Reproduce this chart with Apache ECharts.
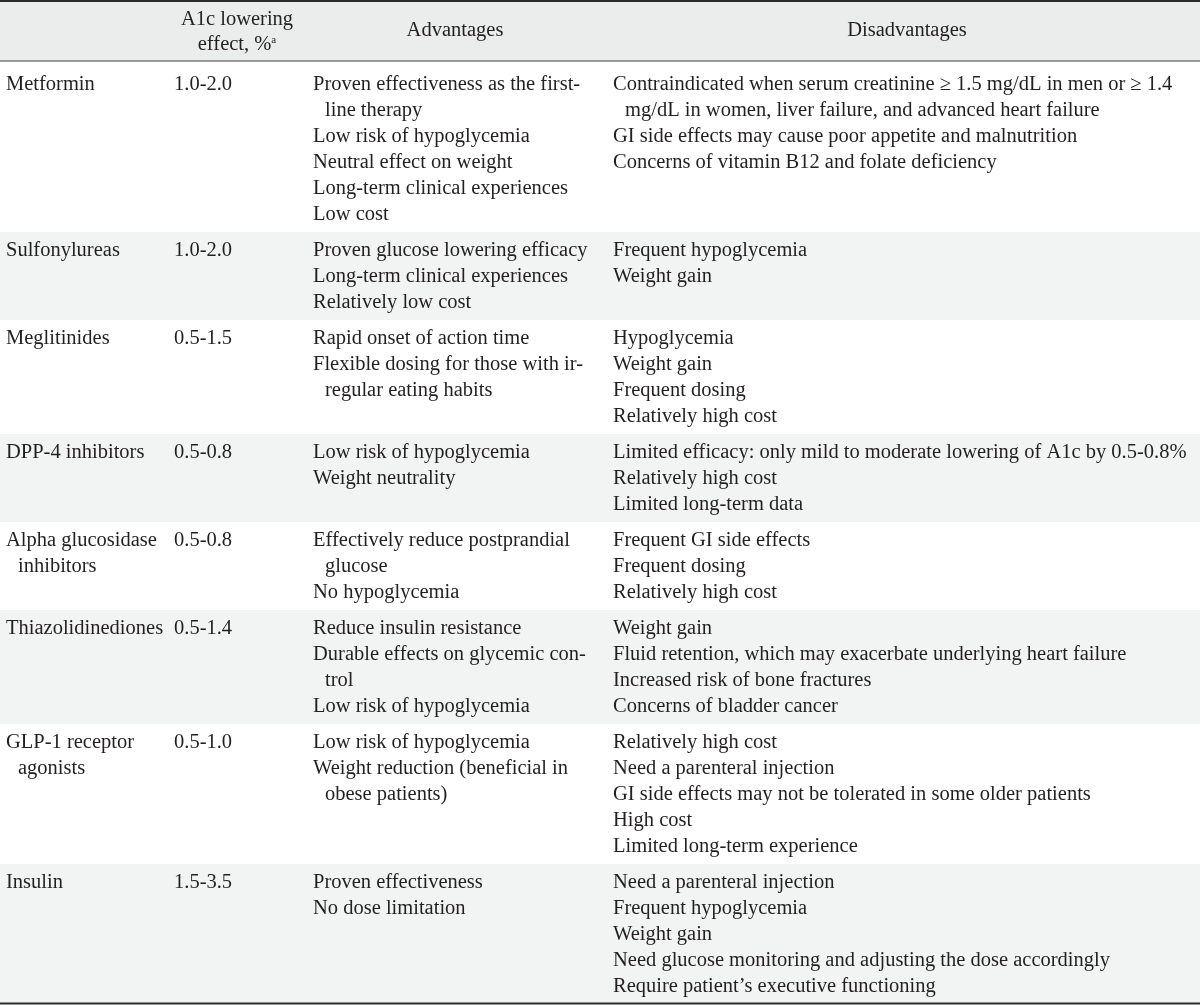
<!DOCTYPE html>
<html><head><meta charset="utf-8">
<script src="https://cdn.jsdelivr.net/npm/echarts@6/dist/echarts.min.js"></script>
<style>html,body{margin:0;padding:0;background:#fff}#c{width:1200px;height:1007px}</style>
</head><body><div id="c"></div>
<script>
// ---------- table content ----------
const headerLabels = [[""], ["A1c lowering", "effect, %{sup|a}"], ["Advantages"], ["Disadvantages"]];
const drugs = [
  ["Metformin"], ["Sulfonylureas"], ["Meglitinides"], ["DPP-4 inhibitors"],
  ["Alpha glucosidase", "inhibitors"], ["Thiazolidinediones"], ["GLP-1 receptor", "agonists"], ["Insulin"]
];
const a1cRanges = ["1.0-2.0", "1.0-2.0", "0.5-1.5", "0.5-0.8", "0.5-0.8", "0.5-1.4", "0.5-1.0", "1.5-3.5"];
const advantages = [
  [["Proven effectiveness as the first-", "line therapy"], ["Low risk of hypoglycemia"], ["Neutral effect on weight"], ["Long-term clinical experiences"], ["Low cost"]],
  [["Proven glucose lowering efficacy"], ["Long-term clinical experiences"], ["Relatively low cost"]],
  [["Rapid onset of action time"], ["Flexible dosing for those with ir-", "regular eating habits"]],
  [["Low risk of hypoglycemia"], ["Weight neutrality"]],
  [["Effectively reduce postprandial", "glucose"], ["No hypoglycemia"]],
  [["Reduce insulin resistance"], ["Durable effects on glycemic con-", "trol"], ["Low risk of hypoglycemia"]],
  [["Low risk of hypoglycemia"], ["Weight reduction (beneficial in", "obese patients)"]],
  [["Proven effectiveness"], ["No dose limitation"]]
];
const disadvantages = [
  [["Contraindicated when serum creatinine \u2265 1.5 mg/dL in men or \u2265 1.4", "mg/dL in women, liver failure, and advanced heart failure"], ["GI side effects may cause poor appetite and malnutrition"], ["Concerns of vitamin B12 and folate deficiency"]],
  [["Frequent hypoglycemia"], ["Weight gain"]],
  [["Hypoglycemia"], ["Weight gain"], ["Frequent dosing"], ["Relatively high cost"]],
  [["Limited efficacy: only mild to moderate lowering of A1c by 0.5-0.8%"], ["Relatively high cost"], ["Limited long-term data"]],
  [["Frequent GI side effects"], ["Frequent dosing"], ["Relatively high cost"]],
  [["Weight gain"], ["Fluid retention, which may exacerbate underlying heart failure"], ["Increased risk of bone fractures"], ["Concerns of bladder cancer"]],
  [["Relatively high cost"], ["Need a parenteral injection"], ["GI side effects may not be tolerated in some older patients"], ["High cost"], ["Limited long-term experience"]],
  [["Need a parenteral injection"], ["Frequent hypoglycemia"], ["Weight gain"], ["Need glucose monitoring and adjusting the dose accordingly"], ["Require patient\u2019s executive functioning"]]
];

// ---------- layout ----------
const W = 1200, H = 1007;
const FONT_FAMILY = '"Liberation Serif", "Times New Roman", serif';
const FS = 20.5, LINE = 26, HEAD_H = 61, TOP_PAD = 19, INDENT = 12;
const colX = [6, 174, 313, 613];
const headCenters = [0, 237, 455, 907];
const TEXT = '#231f20';

function cellLines(items) {
  const out = [];
  items.forEach(it => it.forEach((ln, k) => out.push({ text: ln, indent: k > 0 })));
  return out;
}
const rows = drugs.map((d, i) => {
  const cells = [cellLines([d]), cellLines([[a1cRanges[i]]]), cellLines(advantages[i]), cellLines(disadvantages[i])];
  return { cells, n: Math.max(...cells.map(c => c.length)) };
});
let yCur = HEAD_H;
const rowData = rows.map((r, i) => {
  const extra = i === 0 ? 5 : 0;
  const h = LINE * r.n + 10 + extra;
  const d = [i, yCur, yCur + h, extra];
  yCur += h;
  return d;
});
const tableBottom = yCur;
const borderColors = ['#2b2b2b', '#7a7a7a', '#2b2b2b'];

const chart = echarts.init(document.getElementById('c'), null, { renderer: 'canvas' });
chart.setOption({
  animation: false,
  backgroundColor: '#ffffff',
  grid: { left: 0, right: 0, top: 0, bottom: 0 },
  xAxis: { type: 'value', min: 0, max: W, show: false },
  yAxis: { type: 'value', min: 0, max: H, inverse: true, show: false },
  series: [
    {
      type: 'custom', coordinateSystem: 'cartesian2d', z: 1,
      data: [[0, HEAD_H]],
      renderItem(params, api) {
        const p0 = api.coord([0, 0]), p1 = api.coord([W, api.value(1)]);
        const ch = [{ type: 'rect', shape: { x: p0[0], y: p0[1], width: p1[0] - p0[0], height: p1[1] - p0[1] }, style: { fill: '#ebecec' } }];
        headerLabels.forEach((lab, c) => {
          lab.forEach((t, k) => {
            if (!t) return;
            const yy = lab.length === 1 ? 31 : 20 + k * 25;
            const pt = api.coord([headCenters[c], yy]);
            ch.push({
              type: 'text', x: pt[0], y: pt[1],
              style: {
                text: t, fill: TEXT, fontSize: FS, fontFamily: FONT_FAMILY, align: 'center', verticalAlign: 'middle',
                rich: { sup: { fontSize: 11, fontFamily: FONT_FAMILY, fill: TEXT, verticalAlign: 'top', padding: [0, 0, 10, 0] } }
              }
            });
          });
        });
        return { type: 'group', children: ch };
      }
    },
    {
      type: 'custom', coordinateSystem: 'cartesian2d', z: 2,
      data: rowData,
      renderItem(params, api) {
        const i = api.value(0), y0 = api.value(1), y1 = api.value(2), extra = api.value(3);
        const p0 = api.coord([0, y0]), p1 = api.coord([W, y1]);
        const ch = [{ type: 'rect', shape: { x: p0[0], y: p0[1], width: p1[0] - p0[0], height: p1[1] - p0[1] }, style: { fill: i % 2 ? '#f2f3f3' : '#ffffff' } }];
        rows[i].cells.forEach((cell, c) => cell.forEach((ln, k) => {
          const pt = api.coord([colX[c] + (ln.indent ? INDENT : 0), y0 + TOP_PAD + extra + k * LINE]);
          ch.push({ type: 'text', x: pt[0], y: pt[1], style: { text: ln.text, fill: TEXT, fontSize: FS, fontFamily: FONT_FAMILY, align: 'left', verticalAlign: 'middle' } });
        }));
        return { type: 'group', children: ch };
      }
    },
    {
      type: 'custom', coordinateSystem: 'cartesian2d', z: 5,
      data: [[1, 2.2], [HEAD_H, 1.6], [tableBottom - 0.5, 2.2]],
      renderItem(params, api) {
        const yv = api.value(0), lw = api.value(1);
        const a = api.coord([0, yv]), b = api.coord([W, yv]);
        return { type: 'line', shape: { x1: a[0], y1: a[1], x2: b[0], y2: b[1] }, style: { stroke: borderColors[params.dataIndex], lineWidth: lw } };
      }
    }
  ]
});
</script></body></html>
